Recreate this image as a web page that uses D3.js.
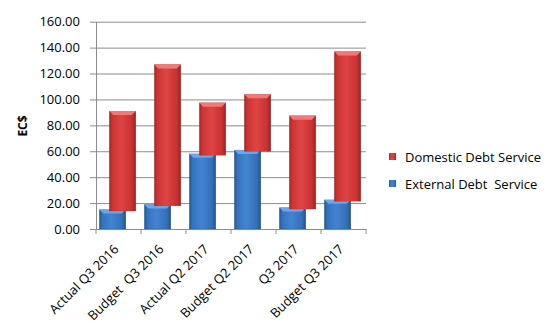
<!DOCTYPE html>
<html>
<head>
<meta charset="utf-8">
<script src="https://cdn.jsdelivr.net/npm/d3@7"></script>
<style>
  body { margin: 0; background: #fff; }
  text { font-family: "Open Sans", sans-serif; fill: #000; }
</style>
</head>
<body>
<div id="chart"></div>
<script>
// chart data
const categories = ["Actual Q3 2016", "Budget  Q3 2016", "Actual Q2 2017", "Budget Q2 2017", "Q3 2017", "Budget Q3 2017"];
const externalDebt = [15, 19, 58, 61, 16.5, 22.5];
const domesticDebt = [76, 108, 39.5, 43, 71, 114.5];
const yTicks = [0, 20, 40, 60, 80, 100, 120, 140, 160];
const seriesNames = ["Domestic Debt Service", "External Debt  Service"];

const width = 549, height = 329;
const plotLeft = 96, plotRight = 366, plotTop = 21.7, plotBottom = 229;

const svg = d3.select("#chart")
    .append("svg")
    .attr("width", width)
    .attr("height", height);

const defs = svg.append("defs");
function grad(id, stops) {
    const g = defs.append("linearGradient").attr("id", id)
        .attr("x1", "0%").attr("x2", "100%").attr("y1", "0%").attr("y2", "0%");
    stops.forEach(s => g.append("stop").attr("offset", s[0]).attr("stop-color", s[1]));
}
grad("redG", [["0%", "#a82424"], ["12%", "#cc3535"], ["45%", "#de4444"], ["85%", "#c93232"], ["100%", "#9c2020"]]);
grad("blueG", [["0%", "#23568f"], ["12%", "#3472bd"], ["45%", "#4284d2"], ["85%", "#3470b8"], ["100%", "#22548c"]]);

const x = d3.scaleBand().domain(categories).range([plotLeft, plotRight]).padding(0);
const y = d3.scaleLinear().domain([0, 160]).range([plotBottom, plotTop]);

// gridlines
svg.append("g")
    .attr("transform", `translate(${plotLeft},0)`)
    .call(d3.axisLeft(y).tickValues(yTicks).tickSize(-(plotRight - plotLeft)).tickFormat(""))
    .call(g => g.select(".domain").remove())
    .call(g => g.selectAll("line").attr("stroke", "#8c8c8c").attr("stroke-width", 1));

// y axis
svg.append("g")
    .attr("transform", `translate(${plotLeft},0)`)
    .call(d3.axisLeft(y).tickValues(yTicks).tickSize(6).tickSizeOuter(0).tickPadding(10).tickFormat(d3.format(".2f")))
    .call(g => g.select(".domain").attr("stroke", "#8c8c8c"))
    .call(g => g.selectAll("line").attr("stroke", "#8c8c8c"))
    .call(g => g.selectAll("text").attr("font-size", 13).attr("font-family", "Open Sans, sans-serif").attr("fill", "#000"));

// x axis
const xAxis = svg.append("g")
    .attr("transform", `translate(0,${plotBottom})`)
    .call(d3.axisBottom(x).tickSize(0).tickFormat(""))
    .call(g => g.select(".domain").attr("stroke", "#8c8c8c"));

xAxis.selectAll(".sep")
    .data(d3.range(categories.length + 1))
    .join("line")
    .attr("x1", i => plotLeft + i * x.bandwidth())
    .attr("x2", i => plotLeft + i * x.bandwidth())
    .attr("y1", 0).attr("y2", 5)
    .attr("stroke", "#8c8c8c");

xAxis.selectAll(".lab")
    .data(categories)
    .join("text")
    .attr("text-anchor", "end")
    .attr("font-size", 13)
    .style("white-space", "pre")
    .attr("transform", d => `translate(${x(d) + x.bandwidth() / 2 + 1},${21}) rotate(-45)`)
    .text(d => d);

// bars
const bw = x.bandwidth();
const barW = bw * 0.59;

function drawBar(g, x0, y0, y1, fill, hi) {
    g.append("rect")
        .attr("x", x0).attr("y", y0)
        .attr("width", barW).attr("height", y1 - y0)
        .attr("fill", fill)
        .attr("stroke", "rgba(0,0,0,0.15)").attr("stroke-width", 0.5);
    // bevel on top
    g.append("path")
        .attr("d", `M${x0},${y0} L${x0 + barW},${y0} L${x0 + barW - 4},${y0 + 4} L${x0 + 4},${y0 + 4} Z`)
        .attr("fill", hi);
}

const bars = svg.append("g");
categories.forEach((c, i) => {
    const g = bars.append("g");
    drawBar(g, x(c) + bw * 0.073, y(externalDebt[i]), y(0), "url(#blueG)", "#6fa4e6");
    drawBar(g, x(c) + bw * 0.295, y(externalDebt[i] + domesticDebt[i]), y(externalDebt[i]) + 1.5, "url(#redG)", "#f07a7a");
});

// y axis title
svg.append("text")
    .attr("transform", `translate(27,126) rotate(-90)`)
    .attr("text-anchor", "middle")
    .attr("font-size", 12)
    .attr("font-weight", "bold")
    .text("EC$");

// legend
const legendColors = ["url(#redG)", "url(#blueG)"];
const legend = svg.append("g");
seriesNames.forEach((n, i) => {
    legend.append("rect")
        .attr("x", 389).attr("y", 153 + i * 27)
        .attr("width", 7).attr("height", 7)
        .attr("fill", legendColors[i]);
    legend.append("text")
        .attr("x", 405).attr("y", 161.5 + i * 27)
        .attr("font-size", 13)
        .style("white-space", "pre")
        .text(n);
});
</script>
</body>
</html>
